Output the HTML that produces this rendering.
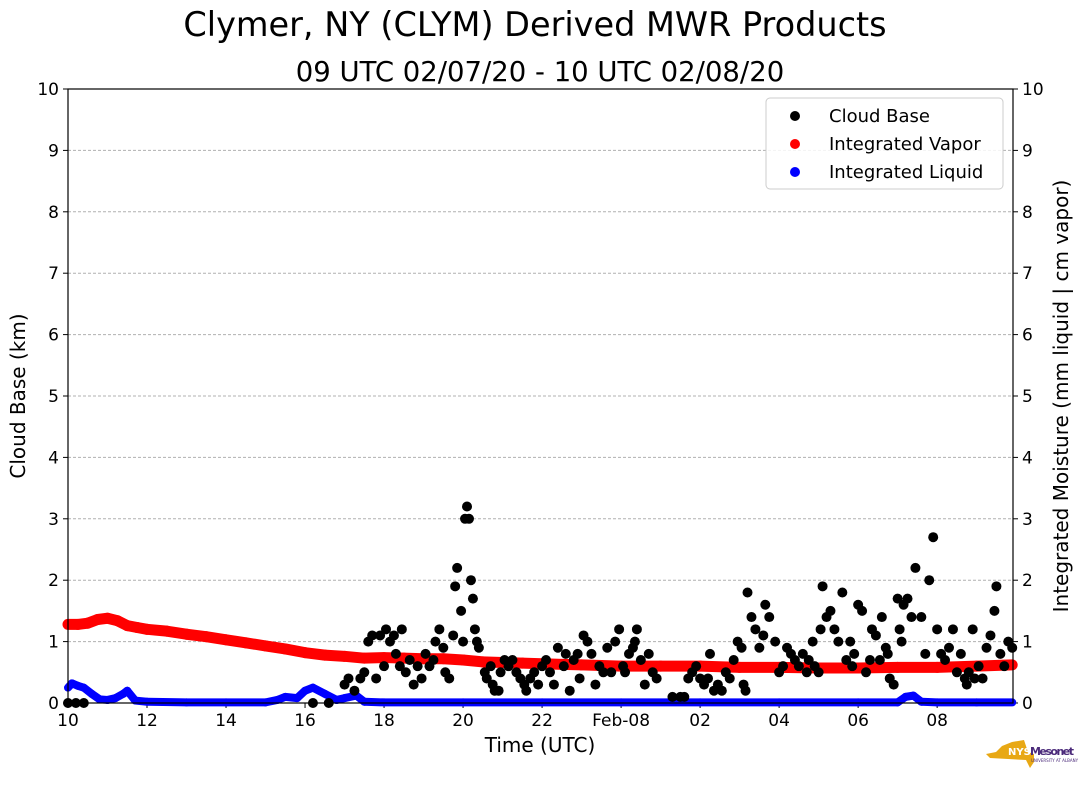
<!DOCTYPE html>
<html><head><meta charset="utf-8"><style>
body{margin:0;background:#fff;}
svg{display:block;font-family:"DejaVu Sans","Liberation Sans",sans-serif;}
</style></head><body>
<svg id="c" width="1089" height="804"></svg>
<script>
const xTicks=[10,12,14,16,18,20,22,24,26,28,30,32];
const xTickLabels=["10","12","14","16","18","20","22","Feb-08","02","04","06","08"];
const yTicks=[0,1,2,3,4,5,6,7,8,9,10];
const vaporHour=[10,10.25,10.5,10.75,11,11.25,11.5,11.75,12,12.5,13,13.5,14,14.5,15,15.5,16,16.5,17,17.5,18,18.5,19,19.5,20,20.5,21,21.5,22,22.5,23,23.5,24,25,26,27,28,29,30,31,32,33,33.9];
const vaporVal=[1.28,1.28,1.3,1.36,1.38,1.34,1.26,1.23,1.2,1.17,1.12,1.08,1.03,0.98,0.93,0.88,0.82,0.78,0.76,0.73,0.74,0.73,0.72,0.72,0.7,0.67,0.66,0.65,0.64,0.63,0.62,0.61,0.6,0.6,0.6,0.58,0.58,0.57,0.57,0.58,0.58,0.6,0.62];
const liqHour=[10,10.1,10.25,10.4,10.6,10.8,11,11.2,11.4,11.5,11.7,12,13,14,15,15.3,15.5,15.8,16,16.2,16.5,16.8,17,17.3,17.5,18,20,22,24,26,28,30,31,31.2,31.4,31.6,32,33,33.9];
const liqVal=[0.25,0.32,0.28,0.25,0.15,0.06,0.05,0.08,0.15,0.2,0.04,0.02,0.01,0.01,0.01,0.05,0.1,0.08,0.2,0.25,0.15,0.05,0.08,0.12,0.02,0.01,0.01,0.01,0.01,0.01,0.01,0.01,0.01,0.1,0.12,0.02,0.01,0.01,0.01];
const cbHour=[10,10.2,10.4,16.2,16.6,17.0,17.1,17.25,17.4,17.5,17.6,17.7,17.8,17.9,18.0,18.05,18.15,18.25,18.3,18.4,18.45,18.55,18.65,18.75,18.85,18.95,19.05,19.15,19.25,19.3,19.4,19.5,19.55,19.65,19.75,19.8,19.85,19.95,20.0,20.05,20.1,20.15,20.2,20.25,20.3,20.35,20.4,20.55,20.6,20.7,20.75,20.8,20.9,20.95,21.05,21.15,21.25,21.35,21.45,21.55,21.6,21.7,21.8,21.9,22.0,22.1,22.2,22.3,22.4,22.55,22.6,22.7,22.8,22.9,22.95,23.05,23.15,23.25,23.35,23.45,23.55,23.65,23.75,23.85,23.95,24.05,24.1,24.2,24.3,24.35,24.4,24.5,24.6,24.7,24.8,24.9,25.3,25.5,25.6,25.7,25.8,25.9,26.0,26.1,26.2,26.25,26.35,26.45,26.55,26.65,26.75,26.85,26.95,27.05,27.1,27.15,27.2,27.3,27.4,27.5,27.6,27.65,27.75,27.9,28.0,28.1,28.2,28.3,28.4,28.5,28.6,28.7,28.75,28.85,28.9,29.0,29.05,29.1,29.2,29.3,29.4,29.5,29.6,29.7,29.8,29.85,29.9,30.0,30.1,30.2,30.3,30.35,30.45,30.55,30.6,30.7,30.75,30.8,30.9,31.0,31.05,31.1,31.15,31.25,31.35,31.45,31.6,31.7,31.8,31.9,32.0,32.1,32.2,32.3,32.4,32.5,32.6,32.7,32.75,32.8,32.9,32.95,33.05,33.15,33.25,33.35,33.45,33.5,33.6,33.7,33.8,33.9];
const cbKm=[0,0,0,0,0,0.3,0.4,0.2,0.4,0.5,1.0,1.1,0.4,1.1,0.6,1.2,1.0,1.1,0.8,0.6,1.2,0.5,0.7,0.3,0.6,0.4,0.8,0.6,0.7,1.0,1.2,0.9,0.5,0.4,1.1,1.9,2.2,1.5,1.0,3.0,3.2,3.0,2.0,1.7,1.2,1.0,0.9,0.5,0.4,0.6,0.3,0.2,0.2,0.5,0.7,0.6,0.7,0.5,0.4,0.3,0.2,0.4,0.5,0.3,0.6,0.7,0.5,0.3,0.9,0.6,0.8,0.2,0.7,0.8,0.4,1.1,1.0,0.8,0.3,0.6,0.5,0.9,0.5,1.0,1.2,0.6,0.5,0.8,0.9,1.0,1.2,0.7,0.3,0.8,0.5,0.4,0.1,0.1,0.1,0.4,0.5,0.6,0.4,0.3,0.4,0.8,0.2,0.3,0.2,0.5,0.4,0.7,1.0,0.9,0.3,0.2,1.8,1.4,1.2,0.9,1.1,1.6,1.4,1.0,0.5,0.6,0.9,0.8,0.7,0.6,0.8,0.5,0.7,1.0,0.6,0.5,1.2,1.9,1.4,1.5,1.2,1.0,1.8,0.7,1.0,0.6,0.8,1.6,1.5,0.5,0.7,1.2,1.1,0.7,1.4,0.9,0.8,0.4,0.3,1.7,1.2,1.0,1.6,1.7,1.4,2.2,1.4,0.8,2.0,2.7,1.2,0.8,0.7,0.9,1.2,0.5,0.8,0.4,0.3,0.5,1.2,0.4,0.6,0.4,0.9,1.1,1.5,1.9,0.8,0.6,1.0,0.9,0.6,0.4,0.3,0.5,0.3,0.7,0.8,0.3,0.2,0.1];

const L=68,R=1013,T=89,B=703,x0=10,x1=33.92;
const xs=h=>L+(h-x0)/(x1-x0)*(R-L);
const ys=v=>B-v/10*(B-T);
const svg=document.getElementById('c');
const NS='http://www.w3.org/2000/svg';
function mk(tag,attrs,parent){const e=document.createElementNS(NS,tag);for(const k in attrs)e.setAttribute(k,attrs[k]);(parent||svg).appendChild(e);return e;}
function txt(s,attrs,name){const e=mk('text',attrs);e.textContent=s;return e;}

txt('Clymer, NY (CLYM) Derived MWR Products',{x:535,y:36,'font-size':33.5,'text-anchor':'middle'},'chart-title');
txt('09 UTC 02/07/20 - 10 UTC 02/08/20',{x:540,y:81,'font-size':27.5,'text-anchor':'middle'},'chart-subtitle');

yTicks.forEach(v=>{
  if(v>0&&v<10){const g=mk('line',{x1:L,x2:R,y1:ys(v),y2:ys(v),stroke:'#b0b0b0','stroke-dasharray':'3,2','stroke-width':1});
  }
  const t1=mk('line',{x1:L-5,x2:L,y1:ys(v),y2:ys(v),stroke:'#000'});
  const t2=mk('line',{x1:R,x2:R+5,y1:ys(v),y2:ys(v),stroke:'#000'});
  txt(String(v),{x:L-9,y:ys(v)+6,'font-size':17,'text-anchor':'end'},'y-tick-label-left');
  txt(String(v),{x:R+9,y:ys(v)+6,'font-size':17,'text-anchor':'start'},'y-tick-label-right');
});
xTicks.forEach((h,i)=>{
  const t=mk('line',{x1:xs(h),x2:xs(h),y1:B,y2:B+5,stroke:'#000'});
  txt(xTickLabels[i],{x:xs(h),y:B+23,'font-size':17,'text-anchor':'middle'},'x-tick-label');
});
const gV=mk('g',{});
for(let i=0;i<vaporHour.length-1;i++){
  const l=mk('line',{x1:xs(vaporHour[i]),y1:ys(vaporVal[i]),x2:xs(vaporHour[i+1]),y2:ys(vaporVal[i+1]),stroke:'#ff0000','stroke-width':11,'stroke-linecap':'round'},gV);
  
}
const gL=mk('g',{});
for(let i=0;i<liqHour.length-1;i++){
  const l=mk('line',{x1:xs(liqHour[i]),y1:ys(liqVal[i]),x2:xs(liqHour[i+1]),y2:ys(liqVal[i+1]),stroke:'#0000ff','stroke-width':8,'stroke-linecap':'round'},gL);
  
}
const gC=mk('g',{});
cbHour.forEach((h,i)=>{
  const c=mk('circle',{cx:xs(h),cy:ys(cbKm[i]),r:5,fill:'#000'},gC);
  
});
const fr=mk('rect',{x:L,y:T,width:R-L,height:B-T,fill:'none',stroke:'#000','stroke-width':1.2});


txt('Time (UTC)',{x:540,y:752,'font-size':20,'text-anchor':'middle'},'x-axis-title');
txt('Cloud Base (km)',{x:0,y:0,'font-size':20,'text-anchor':'middle',transform:'translate(25,396) rotate(-90)'},'y-axis-title-left');
txt('Integrated Moisture (mm liquid | cm vapor)',{x:0,y:0,'font-size':20,'text-anchor':'middle',transform:'translate(1068,396) rotate(-90)'},'y-axis-title-right');

const lg=mk('g',{});
mk('rect',{x:766,y:98,width:237,height:91,rx:4,fill:'#fff','fill-opacity':0.85,stroke:'#ccc'},lg);
[['Cloud Base','#000'],['Integrated Vapor','#ff0000'],['Integrated Liquid','#0000ff']].forEach((e,i)=>{
  const y=116+i*28;
  const c=mk('circle',{cx:795,cy:y,r:5,fill:e[1]},lg);
  const t=mk('text',{x:829,y:y+6,'font-size':18},lg);t.textContent=e[0];
});
const lo=mk('g',{});
mk('path',{d:'M1012,742 L1024,740 L1028,752 L1034,754 L1034,762 L1030,768 L1026,760 L990,758 L986,754 L996,752 L1002,746 Z',fill:'#e8a814'},lo);
const n1=mk('text',{x:1008,y:755,'font-size':10,'font-weight':'bold',fill:'#fff'},lo);n1.textContent='NYS';
const n2=mk('text',{x:1030,y:755,'font-size':11,'font-weight':'bold',fill:'#4b2a7a',textLength:44},lo);n2.textContent='Mesonet';
const n3=mk('text',{x:1031,y:762,'font-size':4,fill:'#4b2a7a'},lo);n3.textContent='UNIVERSITY AT ALBANY';
</script>
</body></html>
